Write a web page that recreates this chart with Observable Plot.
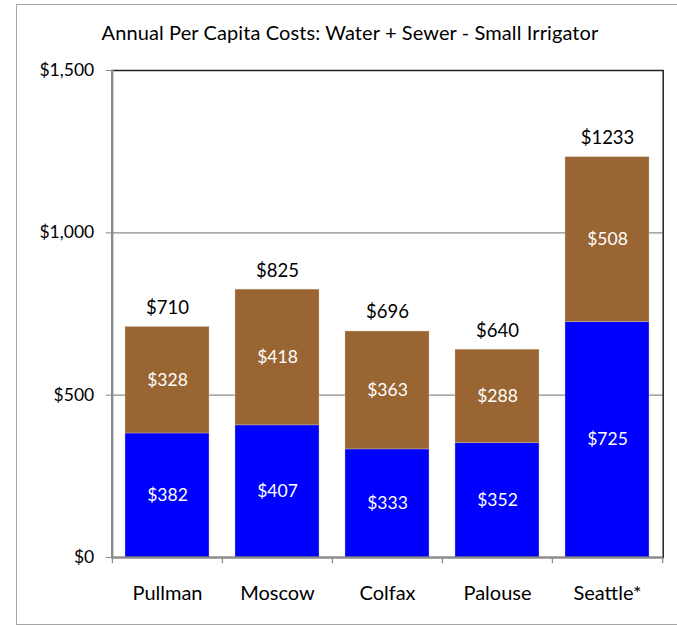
<!DOCTYPE html>
<html>
<head>
<meta charset="utf-8">
<script src="https://cdn.jsdelivr.net/npm/d3@7"></script>
<script src="https://cdn.jsdelivr.net/npm/@observablehq/plot@0.6"></script>
<style>
  html, body { margin: 0; padding: 0; background: #fff; }
  #wrap { position: relative; width: 677px; height: 627px; overflow: hidden; font-family: Lato, "Open Sans", sans-serif; }
  #border { position: absolute; left: 16px; top: 4px; width: 700px; height: 621px; border: 1px solid #a6a6a6; box-sizing: border-box; }
  #title { position: absolute; left: 0; width: 700px; top: 20px; line-height: 24px; text-align: center; font-size: 20px; letter-spacing: 0.1px; color: #000; }
  #chart { position: absolute; left: 0; top: 0; }
</style>
</head>
<body>
<div id="wrap">
  <div id="border"></div>
  <div id="title">Annual Per Capita Costs: Water + Sewer - Small Irrigator</div>
  <div id="chart"></div>
</div>
<script>
const cities = ["Pullman", "Moscow", "Colfax", "Palouse", "Seattle*"];
const water = [382, 407, 333, 352, 725];
const sewer = [328, 418, 363, 288, 508];
const totals = [710, 825, 696, 640, 1233];
const yTicks = [0, 500, 1000, 1500];
const gridValues = [500, 1000];

const rows = [];
cities.forEach((c, i) => {
  rows.push({city: c, part: "Water", value: water[i], y1: 0, y2: water[i]});
  rows.push({city: c, part: "Sewer", value: sewer[i], y1: water[i], y2: water[i] + sewer[i]});
});
const totalRows = cities.map((c, i) => ({city: c, total: totals[i]}));

const W = 677, H = 627;
const mL = 111.7, mR = 14.3, mT = 70, mB = 70;
const step = (W - mL - mR) / cities.length;
const money = d => "$" + d3.format(",")(d);

const plot = Plot.plot({
  width: W,
  height: H,
  marginLeft: mL,
  marginRight: mR,
  marginTop: mT,
  marginBottom: mB,
  style: {fontFamily: "Lato, 'Open Sans', sans-serif", background: "transparent", overflow: "visible"},
  x: {domain: cities, paddingInner: 0.24, paddingOuter: 0.12, label: null},
  y: {domain: [0, 1500], label: null},
  color: {domain: ["Water", "Sewer"], range: ["#0000ff", "#996633"]},
  marks: [
    Plot.ruleY(gridValues, {stroke: "#8c8c8c", strokeWidth: 1.3}),
    Plot.barY(rows, {x: "city", y1: "y1", y2: "y2", fill: "part", stroke: "#d9c6b0", strokeWidth: 0.6, strokeOpacity: 0.6}),
    Plot.frame({stroke: "#222", strokeWidth: 1.5}),
    Plot.ruleX([cities[0]], {x: d => d, dx: -step / 2, stroke: "#8c8c8c", strokeWidth: 2}),
    Plot.ruleY([0], {stroke: "#8c8c8c", strokeWidth: 2}),
    Plot.ruleX(cities, {x: d => d, dx: -step / 2, y1: 0, y2: -19, stroke: "#8c8c8c", strokeWidth: 1.3}),
    Plot.ruleX([cities[cities.length - 1]], {x: d => d, dx: step / 2, y1: 0, y2: -19, stroke: "#8c8c8c", strokeWidth: 1.3}),
    Plot.axisY({ticks: yTicks, tickFormat: money, tickSize: 6, tickPadding: 12, stroke: "#8c8c8c", fontSize: 17.5, fill: "#000"}),
    Plot.axisX({tickSize: 0, tickPadding: 28, fontSize: 20, fill: "#000"}),
    Plot.text(rows, {x: "city", y: d => (d.y1 + d.y2) / 2, text: d => money(d.value), fill: "#fff", fontSize: 17.5}),
    Plot.text(totalRows, {x: "city", y: "total", text: d => "$" + d.total, dy: -19, fill: "#000", fontSize: 18.5})
  ]
});
document.getElementById("chart").appendChild(plot);
</script>
</body>
</html>
